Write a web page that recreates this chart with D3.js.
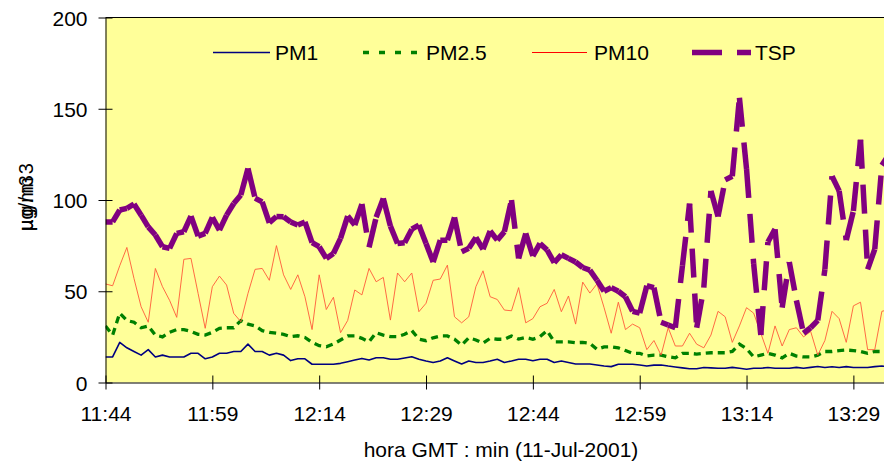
<!DOCTYPE html>
<html>
<head>
<meta charset="utf-8">
<script src="https://cdn.jsdelivr.net/npm/d3@7/dist/d3.min.js"></script>
<style>
  body { margin: 0; background: #ffffff; }
  svg { display: block; }
  text { font-family: "Liberation Sans", Arial, sans-serif; fill: #000; }
</style>
</head>
<body>
<svg id="chart" width="884" height="464"></svg>
<script>
// Particulate concentrations (µg/m3), one reading per minute from 11:44 GMT, 11-Jul-2001
const startMinute = 11 * 60 + 44;
const tickLabels = ["11:44", "11:59", "12:14", "12:29", "12:44", "12:59", "13:14", "13:29"];
const yTicks = [0, 50, 100, 150, 200];
const seriesNames = ["PM1", "PM2.5", "PM10", "TSP"];

const pm1 = [
  14, 14, 22, 19, 17, 15, 18, 14, 15, 14,
  14, 14, 16, 16, 13, 14, 16, 16, 17, 17,
  21, 17, 17, 15, 16, 15, 12, 13, 13, 10,
  10, 10, 10, 10.5, 11.4, 12.3, 13.2, 12.3, 13.6, 13.6,
  12.7, 12.7, 13.4, 14.1, 12.7, 11.8, 11, 11.8, 13.6, 11.8,
  10.1, 11.8, 11, 11, 11.8, 12.7, 11, 11.8, 12.7, 12.7,
  11.9, 12.7, 12.7, 11, 11.8, 11, 10.1, 10.1, 10.1, 9.6,
  9, 8.7, 10, 10, 10, 9.6, 9, 9.5, 9.6, 9,
  8.5, 8, 7.5, 7.5, 8.2, 8, 7.8, 7.8, 8.3, 7.8,
  7.3, 7.8, 7.8, 8.2, 7.8, 7.8, 7.8, 8.3, 7.8, 8.3,
  8.8, 8.2, 8.6, 8.2, 8.7, 8.2, 8.2, 8.2, 8.7, 9,
  8.7
];

const pm25 = [
  31, 26, 38, 34, 33, 30, 31, 26, 25, 27.5,
  29, 29, 28, 26.4, 26, 27.5, 29.7, 30, 30, 33.9,
  32, 31, 28.4, 27.5, 27, 26.4, 25.1, 25.6, 24.7, 22,
  20.2, 19.6, 21.1, 23.3, 25.5, 25.5, 24.2, 22.3, 27.3, 26,
  25.1, 25.1, 26.4, 28.5, 23.8, 22.9, 24.5, 25.5, 25.5, 23.7,
  20.5, 24.5, 23.3, 21.5, 24.2, 23.7, 23.7, 25.5, 23.8, 24.7,
  23.7, 25.1, 28.4, 22.3, 22.3, 22.3, 21.8, 22, 21.5, 18.2,
  19.5, 19.6, 19, 17.5, 16, 16, 14.5, 15, 15, 14.1,
  13.5, 16, 16, 15.6, 16, 16.3, 16.3, 16.3, 17, 21,
  18.5, 14, 15, 16, 15, 13.5, 16, 14.5, 14, 14,
  15, 17, 17, 17.5, 17.8, 17.5, 17, 16, 17, 17,
  17
];

const pm10 = [
  54, 53, 64, 74, 57, 41.5, 33, 62.5, 52.5, 45,
  35.7, 67.5, 68, 48.8, 29.7, 52.5, 58.3, 53.4, 37.9, 33.3,
  48.8, 62, 62.5, 56, 75, 59, 51, 59, 47, 29,
  59, 40, 46.7, 27.3, 34, 50.7, 48, 62.5, 55.2, 57.6,
  34.2, 60, 55.2, 60, 38.8, 43.4, 56, 56.7, 64.3, 36,
  32.7, 36, 52.5, 61.2, 47, 45.5, 39.7, 39.3, 52, 32.7,
  35, 41.5, 43.4, 51, 38.8, 47.4, 32, 55, 49, 54,
  41, 27, 44, 29, 32, 30, 18, 23, 15, 30,
  20, 20, 27, 21, 19, 26, 39, 36, 22, 31,
  41, 38, 27, 16, 31, 20, 29, 30, 25, 28,
  15, 23, 39, 35, 22, 42, 44, 18, 18, 39,
  40
];

const tsp = [
  88, 88, 94.5, 95.4, 97.8, 91.7, 85.3, 80.8, 74.4, 73.5,
  81.7, 82.6, 91.2, 80.2, 81.7, 90.5, 83.5, 91.7, 98.1, 102.7,
  117.3, 101, 99, 87.5, 91, 90.8, 88, 86.3, 88, 76.6,
  74.4, 68, 70.7, 79, 91.2, 86.3, 97.8, 74, 90.5, 100.9,
  85.7, 76.2, 76.6, 84, 86.3, 76.2, 66, 78, 78, 90.5,
  71.6, 73.5, 79.5, 73, 83, 78, 82.6, 100, 68, 81.7,
  69.3, 76.2, 72.6, 65.6, 70, 68, 66, 63, 61.6, 56,
  50, 52, 50, 47, 39, 38, 53, 52, 33, 31.5,
  30, 64, 98, 30, 52, 105, 91, 111, 113, 156,
  117, 65, 26, 77, 84, 41, 66, 45, 27, 30,
  34, 62, 113, 105, 78, 94, 133, 62, 73, 119,
  125
];

// Minute categories along the x axis
const minutes = pm1.map((_, i) => {
  const t = startMinute + i;
  return Math.floor(t / 60) + ":" + String(t % 60).padStart(2, "0");
});

const plot = { left: 105.5, top: 17.5, right: 889, bottom: 382.5 };
const svg = d3.select("#chart");

const x = d3.scalePoint().domain(minutes).range([plot.left, plot.right]);
const y = d3.scaleLinear().domain([0, 200]).range([plot.bottom, plot.top]);

// Plot area
svg.append("rect")
  .attr("x", plot.left).attr("y", plot.top)
  .attr("width", plot.right - plot.left).attr("height", plot.bottom - plot.top)
  .attr("fill", "#FFFF99");

svg.append("line")
  .attr("x1", plot.left).attr("x2", plot.right)
  .attr("y1", plot.top).attr("y2", plot.top)
  .attr("stroke", "#000").attr("stroke-width", 1);

svg.append("clipPath").attr("id", "plotClip")
  .append("rect")
  .attr("x", plot.left).attr("y", plot.top - 10)
  .attr("width", plot.right - plot.left).attr("height", plot.bottom - plot.top + 10);

const g = svg.append("g").attr("clip-path", "url(#plotClip)");

const line = d3.line().x((d, i) => x(minutes[i])).y(d => y(d));

// PM1
g.append("path").datum(pm1)
  .attr("d", line)
  .attr("fill", "none").attr("stroke", "#000080").attr("stroke-width", 1.6)
  .attr("stroke-linejoin", "round");

// PM2.5
g.append("path").datum(pm25)
  .attr("d", line)
  .attr("fill", "none").attr("stroke", "#008000").attr("stroke-width", 3.3)
  .attr("stroke-dasharray", "7,5");

// PM10
g.append("path").datum(pm10)
  .attr("d", line)
  .attr("fill", "none").attr("stroke", "#FF5a3a").attr("stroke-width", 0.9);

// TSP: long dashes, pattern restarting on every segment
g.append("g").selectAll("line")
  .data(d3.range(tsp.length - 1))
  .join("line")
  .attr("x1", i => x(minutes[i])).attr("y1", i => y(tsp[i]))
  .attr("x2", i => x(minutes[i + 1])).attr("y2", i => y(tsp[i + 1]))
  .attr("stroke", "#800080").attr("stroke-width", 5.5)
  .attr("stroke-dasharray", "29,16").attr("stroke-linecap", "butt");

// Y axis
const yAxis = svg.append("g")
  .attr("transform", `translate(${plot.left},0)`)
  .call(d3.axisLeft(y).tickValues(yTicks).tickSizeInner(7).tickSizeOuter(0).tickPadding(11));
yAxis.select(".domain").attr("stroke", "#000");
yAxis.selectAll(".tick line").attr("x1", 7).attr("x2", -7).attr("stroke", "#000");
yAxis.selectAll(".tick text")
  .attr("font-size", 21).attr("font-family", "Liberation Sans, Arial, sans-serif")
  .attr("dy", "0.36em");

// X axis
const xAxis = svg.append("g")
  .attr("transform", `translate(0,${plot.bottom})`)
  .call(d3.axisBottom(x).tickValues(tickLabels).tickSizeInner(7).tickSizeOuter(0).tickPadding(16.5));
xAxis.select(".domain").attr("stroke", "#000");
xAxis.selectAll(".tick line").attr("y1", -7).attr("y2", 7).attr("stroke", "#000");
xAxis.selectAll(".tick text")
  .attr("font-size", 21).attr("font-family", "Liberation Sans, Arial, sans-serif");

// Axis titles
svg.append("text")
  .attr("x", 501).attr("y", 457)
  .attr("text-anchor", "middle").attr("font-size", 21)
  .text("hora GMT : min (11-Jul-2001)");

const yTitle = svg.append("g").attr("transform", "translate(33,231) rotate(-90)");
yTitle.append("text").attr("font-size", 20).text("µg/m3");
yTitle.append("text").attr("font-size", 20).attr("letter-spacing", 3).text("µg/m3");

// Legend
const legend = [
  { name: seriesNames[0], x1: 213, x2: 270, tx: 275, color: "#000080", w: 1.3, dash: null },
  { name: seriesNames[1], x1: 363, x2: 418, tx: 426, color: "#008000", w: 3.3, dash: "6,10" },
  { name: seriesNames[2], x1: 532, x2: 587, tx: 594, color: "#FF0000", w: 1, dash: null },
  { name: seriesNames[3], x1: 692, x2: 751, tx: 755, color: "#800080", w: 5.5, dash: "30,15" }
];
const lg = svg.append("g").selectAll("g").data(legend).join("g");
lg.append("line")
  .attr("x1", d => d.x1).attr("x2", d => d.x2)
  .attr("y1", 52.5).attr("y2", 52.5)
  .attr("stroke", d => d.color).attr("stroke-width", d => d.w)
  .attr("stroke-dasharray", d => d.dash);
lg.append("text")
  .attr("x", d => d.tx).attr("y", 59.5)
  .attr("font-size", 21)
  .text(d => d.name);
</script>
</body>
</html>
